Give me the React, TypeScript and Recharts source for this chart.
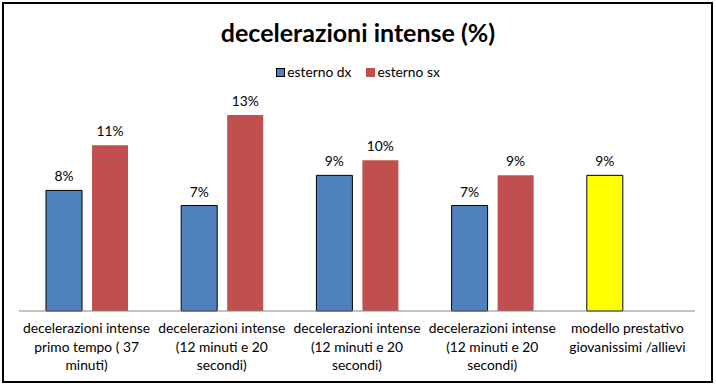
import React from "react";
import { BarChart, Bar, XAxis, YAxis, Cell, LabelList } from "recharts";

const categories = [
  "decelerazioni intense primo tempo ( 37 minuti)",
  "decelerazioni intense (12 minuti e 20 secondi)",
  "decelerazioni intense (12 minuti e 20 secondi)",
  "decelerazioni intense (12 minuti e 20 secondi)",
  "modello prestativo giovanissimi /allievi",
];
const categoryLines = [
  ["decelerazioni intense", "primo tempo ( 37", "minuti)"],
  ["decelerazioni intense", "(12 minuti e 20", "secondi)"],
  ["decelerazioni intense", "(12 minuti e 20", "secondi)"],
  ["decelerazioni intense", "(12 minuti e 20", "secondi)"],
  ["modello prestativo", "giovanissimi /allievi"],
];
const esternoDx = [8, 7, 9, 7, 9];
const esternoSx: (number | null)[] = [11, 13, 10, 9, null];
const seriesNames = ["esterno dx", "esterno sx"];

const BLUE = "#4F81BD";
const RED = "#C0504D";
const YELLOW = "#FFFF00";
const FONT = "Lato, 'Open Sans', sans-serif";

const data = categories.map((c, i) => ({
  name: c,
  idx: i,
  dx: esternoDx[i],
  sx: esternoSx[i],
}));

const Tick = (props: any) => {
  const { x, y, payload } = props;
  const lines = categoryLines[payload.index] || [payload.value];
  return (
    <text x={x} y={y} textAnchor="middle" fontFamily={FONT} fontSize={13.8} fill="#000">
      {lines.map((l: string, i: number) => (
        <tspan key={i} x={x} dy={i === 0 ? 22 : 18.5}>
          {l}
        </tspan>
      ))}
    </text>
  );
};

export default function App() {
  return (
    <div style={{ position: "absolute", left: 0, top: 0, width: 716, height: 387, background: "#fff" }}>
      <div
        style={{
          position: "absolute",
          left: 2,
          top: 2,
          width: 711,
          height: 381,
          border: "2px solid #000",
          boxSizing: "border-box",
        }}
      />
      <div
        style={{
          position: "absolute",
          left: 0,
          top: 14,
          width: 716,
          textAlign: "center",
          fontFamily: FONT,
          fontWeight: 700,
          fontSize: 25,
          lineHeight: "36px",
          color: "#000",
        }}
      >
        decelerazioni intense (%)
      </div>
      <div
        style={{
          position: "absolute",
          left: 0,
          top: 63,
          width: 716,
          display: "flex",
          justifyContent: "center",
          fontFamily: FONT,
          fontSize: 13.8,
          lineHeight: "18px",
          color: "#000",
        }}
      >
        <div style={{ display: "flex", alignItems: "center", marginRight: 15 }}>
          <span style={{ display: "inline-block", width: 9, height: 9, background: BLUE, border: "1px solid #000", boxSizing: "border-box", marginRight: 2 }} />
          <span>{seriesNames[0]}</span>
        </div>
        <div style={{ display: "flex", alignItems: "center" }}>
          <span style={{ display: "inline-block", width: 9, height: 9, background: RED, marginRight: 2 }} />
          <span>{seriesNames[1]}</span>
        </div>
      </div>
      <div style={{ position: "absolute", left: 0, top: 0 }}>
        <BarChart
          width={716}
          height={387}
          data={data}
          margin={{ top: 100, right: 21, bottom: 0, left: 19 }}
          barSize={36}
          barGap={10}
        >
          <XAxis
            dataKey="name"
            axisLine={{ stroke: "#868686", strokeWidth: 1 }}
            tickLine={false}
            tickSize={0}
            tickMargin={0}
            interval={0}
            tick={<Tick />}
            height={76}
          />
          <YAxis hide domain={[0, 14]} />
          <Bar dataKey="dx" fill={BLUE} stroke="#000" strokeWidth={1} isAnimationActive={false}>
            {data.map((d, i) => (
              <Cell key={i} fill={i === 4 ? YELLOW : BLUE} />
            ))}
            <LabelList
              dataKey="dx"
              position="top"
              offset={9}
              formatter={(v: any) => `${v}%`}
              style={{ fontFamily: FONT, fontSize: 13.8, fill: "#000" }}
            />
          </Bar>
          <Bar dataKey="sx" fill={RED} isAnimationActive={false}>
            <LabelList
              dataKey="sx"
              position="top"
              offset={9}
              formatter={(v: any) => (v == null ? "" : `${v}%`)}
              style={{ fontFamily: FONT, fontSize: 13.8, fill: "#000" }}
            />
          </Bar>
        </BarChart>
      </div>
    </div>
  );
}
